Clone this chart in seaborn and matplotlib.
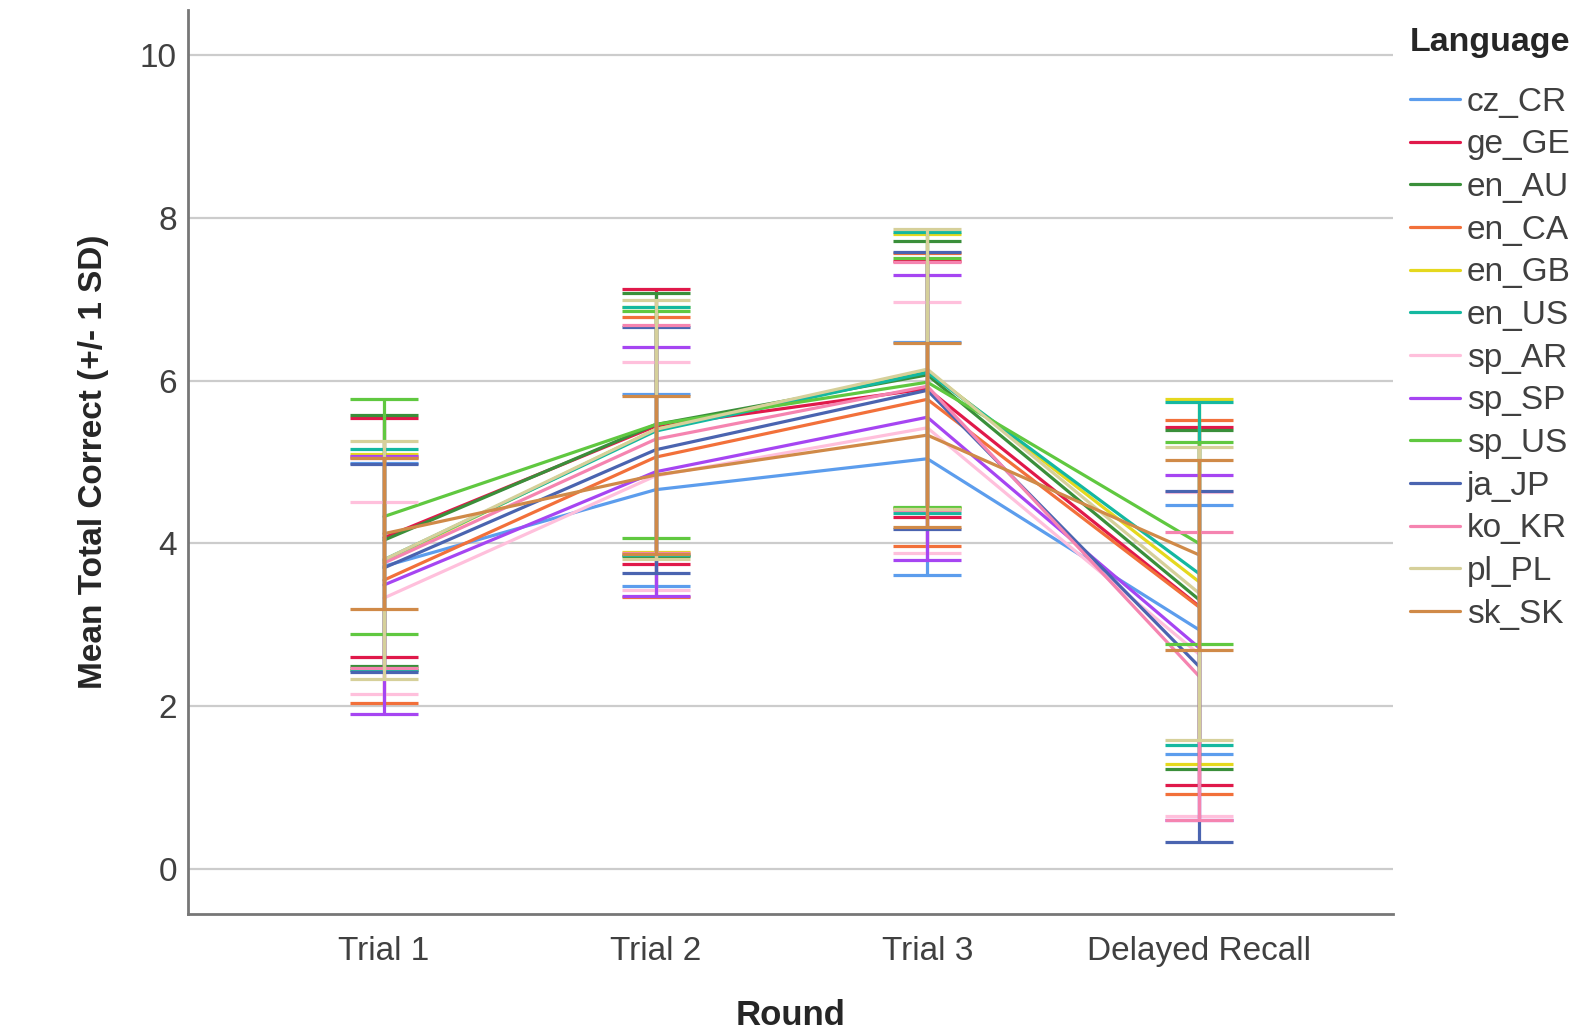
import pandas as pd
import seaborn as sns
import matplotlib.pyplot as plt

# Datos
rondas = ['Trial 1', 'Trial 2', 'Trial 3', 'Delayed Recall']
idiomas = ['cz_CR', 'ge_GE', 'en_AU', 'en_CA', 'en_GB', 'en_US', 'sp_AR',
           'sp_SP', 'sp_US', 'ja_JP', 'ko_KR', 'pl_PL', 'sk_SK']

medias = {
    'cz_CR': [3.72, 4.66, 5.04, 2.94],
    'ge_GE': [4.07, 5.44, 5.90, 3.23],
    'en_AU': [4.04, 5.46, 6.07, 3.31],
    'en_CA': [3.55, 5.06, 5.77, 3.22],
    'en_GB': [3.78, 5.40, 6.12, 3.53],
    'en_US': [3.80, 5.38, 6.10, 3.63],
    'sp_AR': [3.33, 4.83, 5.42, 2.64],
    'sp_SP': [3.49, 4.88, 5.55, 2.72],
    'sp_US': [4.33, 5.46, 5.98, 4.00],
    'ja_JP': [3.70, 5.15, 5.88, 2.49],
    'ko_KR': [3.76, 5.28, 5.93, 2.37],
    'pl_PL': [3.80, 5.40, 6.14, 3.39],
    'sk_SK': [4.12, 4.84, 5.33, 3.86],
}

desviaciones = {
    'cz_CR': [1.27, 1.18, 1.43, 1.53],
    'ge_GE': [1.47, 1.69, 1.57, 2.20],
    'en_AU': [1.54, 1.61, 1.64, 2.08],
    'en_CA': [1.51, 1.72, 1.80, 2.30],
    'en_GB': [1.32, 1.50, 1.68, 2.24],
    'en_US': [1.36, 1.52, 1.72, 2.11],
    'sp_AR': [1.18, 1.40, 1.54, 1.99],
    'sp_SP': [1.58, 1.53, 1.75, 2.12],
    'sp_US': [1.44, 1.39, 1.53, 1.24],
    'ja_JP': [1.28, 1.51, 1.70, 2.16],
    'ko_KR': [1.29, 1.40, 1.52, 1.77],
    'pl_PL': [1.46, 1.59, 1.72, 1.80],
    'sk_SK': [0.93, 0.97, 1.13, 1.17],
}

colores = ['#5c9ded', '#e0194a', '#3a8f3a', '#f2703a', '#e5d81e', '#14b8a0',
           '#ffc0dc', '#a645f2', '#60c840', '#4a64b0', '#f584b0', '#d6d09a',
           '#d08a48']

filas = []
for idioma in idiomas:
    for i, ronda in enumerate(rondas):
        filas.append({'Round': ronda, 'Language': idioma,
                      'Mean': medias[idioma][i], 'SD': desviaciones[idioma][i]})
df = pd.DataFrame(filas)

sns.set_style('white')
plt.rcParams['font.family'] = ['Liberation Sans', 'DejaVu Sans']

fig = plt.figure(figsize=(15.83, 10.33), dpi=100)
ax = fig.add_axes([0.1188, 0.1152, 0.7612, 0.8751])

paleta = dict(zip(idiomas, colores))

# Lineas de medias
sns.lineplot(data=df, x='Round', y='Mean', hue='Language', palette=paleta,
             hue_order=idiomas, linewidth=2.3, sort=False, ax=ax)

# Barras de error +/- 1 SD
for idioma in idiomas:
    sub = df[df['Language'] == idioma]
    ax.errorbar(sub['Round'], sub['Mean'], yerr=sub['SD'], fmt='none',
                ecolor=paleta[idioma], elinewidth=2.3, capsize=24.5,
                capthick=2.3)

ax.set_xlim(-0.721, 3.714)
ax.set_ylim(-0.55, 10.55)
ax.set_yticks([0, 2, 4, 6, 8, 10])
ax.grid(axis='y', color='#cccccc', linewidth=1.6)
ax.grid(axis='x', visible=False)
ax.set_axisbelow(True)

for lado in ['top', 'right']:
    ax.spines[lado].set_visible(False)
for lado in ['left', 'bottom']:
    ax.spines[lado].set_color('#777777')
    ax.spines[lado].set_linewidth(2)

ax.tick_params(axis='both', length=0, labelsize=24, labelcolor='#404040')
ax.tick_params(axis='y', pad=8)
ax.tick_params(axis='x', pad=16)

ax.set_xlabel('Round', fontsize=25, fontweight='bold', labelpad=23)
ax.set_ylabel('Mean Total Correct (+/- 1 SD)', fontsize=24, fontweight='bold',
              labelpad=22)

# Leyenda a la derecha, titulo aparte
handles, labels = ax.get_legend_handles_labels()
ax.get_legend().remove()
leg = fig.legend(handles, labels, loc='upper left',
                 bbox_to_anchor=(0.8825, 0.929), frameon=False, fontsize=24,
                 handlelength=1.5, handletextpad=0.2, labelspacing=0.35,
                 borderaxespad=0.0)
for t in leg.get_texts():
    t.set_color('#404040')
fig.text(0.8907, 0.959, 'Language', fontsize=24.5, fontweight='bold',
         ha='left', va='center')

plt.savefig('out.png', dpi=100)
